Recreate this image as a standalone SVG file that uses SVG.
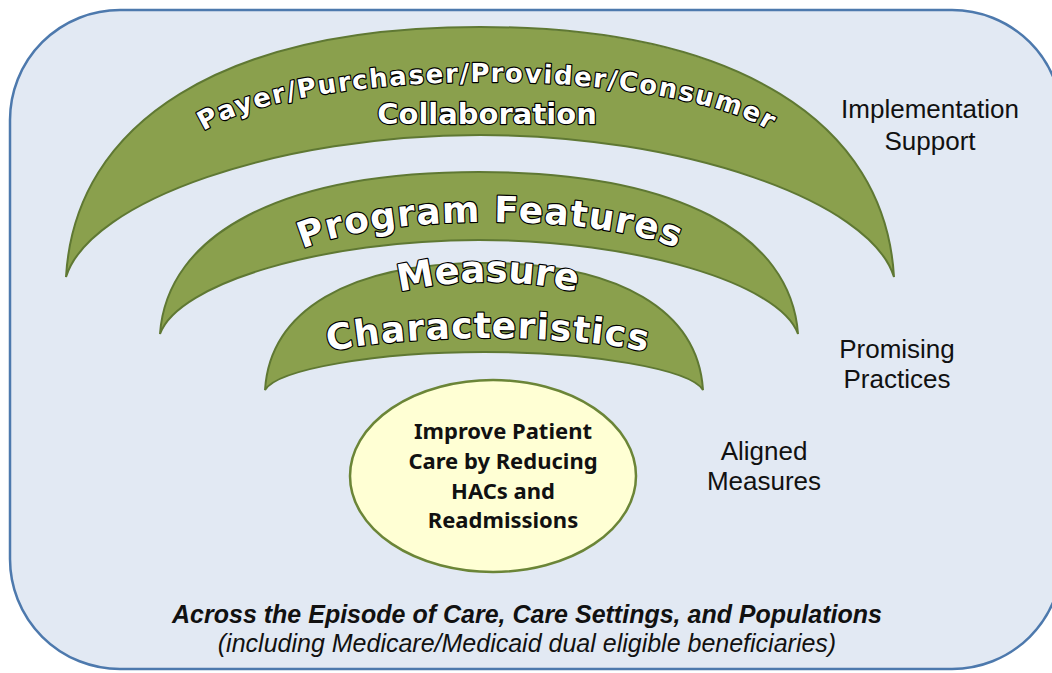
<svg xmlns="http://www.w3.org/2000/svg" width="1052" height="673" viewBox="0 0 1052 673">
  <style>
    .band { fill: #8aa04d; stroke: #5f7833; stroke-width: 2; }
    .arch { font-family: "DejaVu Sans", "Liberation Sans", sans-serif; font-weight: bold; fill: #ffffff; stroke: #000000; stroke-width: 2.4; stroke-linejoin: round; paint-order: stroke; }
    .label { font-family: "Liberation Sans", Arial, sans-serif; font-size: 26px; fill: #111111; text-anchor: middle; }
    .goal { font-family: "Noto Sans", "DejaVu Sans", sans-serif; font-weight: bold; font-size: 22px; fill: #111111; text-anchor: middle; }
    .foot { font-family: "Liberation Sans", Arial, sans-serif; font-size: 25px; font-style: italic; fill: #111111; text-anchor: middle; }
  </style>
  <defs>
    <path id="curveOuter" d="M182,160 A305,78 0 0 1 792,160"/>
    <path id="curveProgram" d="M280,271 A210,49 0 0 1 700,271"/>
    <path id="curveMeasure" d="M88,682 A400,400 0 0 1 888,682"/>
    <path id="curveChar" d="M288,373 A200,35 0 0 1 688,373"/>
  </defs>

  <!-- backdrop panel (right edge runs past the canvas) -->
  <g id="panel">
    <rect x="10" y="10" width="1052" height="659" rx="110" ry="110" fill="#e2e9f3" stroke="#4d79ad" stroke-width="2.5"/>
  </g>

  <g id="connectors"/>

  <!-- outer band: collaboration -->
  <g id="collaboration">
    <path class="band" d="M66,277 C75,122 223,27 480,27 C737,27 885,122 894,277 C870,200 680,135 480,135 C280,135 90,200 66,277 Z"/>
    <text class="arch" font-size="26" letter-spacing="1.5"><textPath href="#curveOuter" startOffset="50%" text-anchor="middle">Payer/Purchaser/Provider/Consumer</textPath></text>
    <text class="arch" x="487" y="124" font-size="29" text-anchor="middle">Collaboration</text>
  </g>

  <!-- middle band: program features -->
  <g id="program-features">
    <path class="band" d="M160,334 C167,234 281,172 479,172 C677,172 791,234 798,334 C780,283 634,240 479,240 C324,240 178,283 160,334 Z"/>
    <text class="arch" font-size="36" letter-spacing="1"><textPath href="#curveProgram" startOffset="50%" text-anchor="middle">Program Features</textPath></text>
  </g>

  <!-- inner band: measure characteristics -->
  <g id="measure-characteristics">
    <path class="band" d="M265,390 C270,311 348,263 484,263 C620,263 698,311 703,390 C690,369 591,352 484,352 C377,352 278,369 265,390 Z"/>
    <text class="arch" font-size="37"><textPath href="#curveMeasure" startOffset="50%" text-anchor="middle">Measure</textPath></text>
    <text class="arch" font-size="36" letter-spacing="1"><textPath href="#curveChar" startOffset="50%" text-anchor="middle">Characteristics</textPath></text>
  </g>

  <!-- central goal -->
  <g id="goal">
    <ellipse cx="493" cy="476" rx="143" ry="96" fill="#ffffd4" stroke="#6b8537" stroke-width="2.5"/>
    <text class="goal" x="503" y="439">Improve Patient</text>
    <text class="goal" x="503" y="469">Care by Reducing</text>
    <text class="goal" x="503" y="499">HACs and</text>
    <text class="goal" x="503" y="528">Readmissions</text>
  </g>

  <!-- side labels -->
  <g id="implementation-support">
    <text class="label" x="930" y="118">Implementation</text>
    <text class="label" x="930" y="150">Support</text>
  </g>
  <g id="promising-practices">
    <text class="label" x="897" y="358">Promising</text>
    <text class="label" x="897" y="388">Practices</text>
  </g>
  <g id="aligned-measures">
    <text class="label" x="764" y="460">Aligned</text>
    <text class="label" x="764" y="490">Measures</text>
  </g>

  <!-- scope statement -->
  <g id="scope">
    <text class="foot" x="527" y="623" font-weight="bold">Across the Episode of Care, Care Settings, and Populations</text>
    <text class="foot" x="527" y="652">(including Medicare/Medicaid dual eligible beneficiaries)</text>
  </g>
</svg>
